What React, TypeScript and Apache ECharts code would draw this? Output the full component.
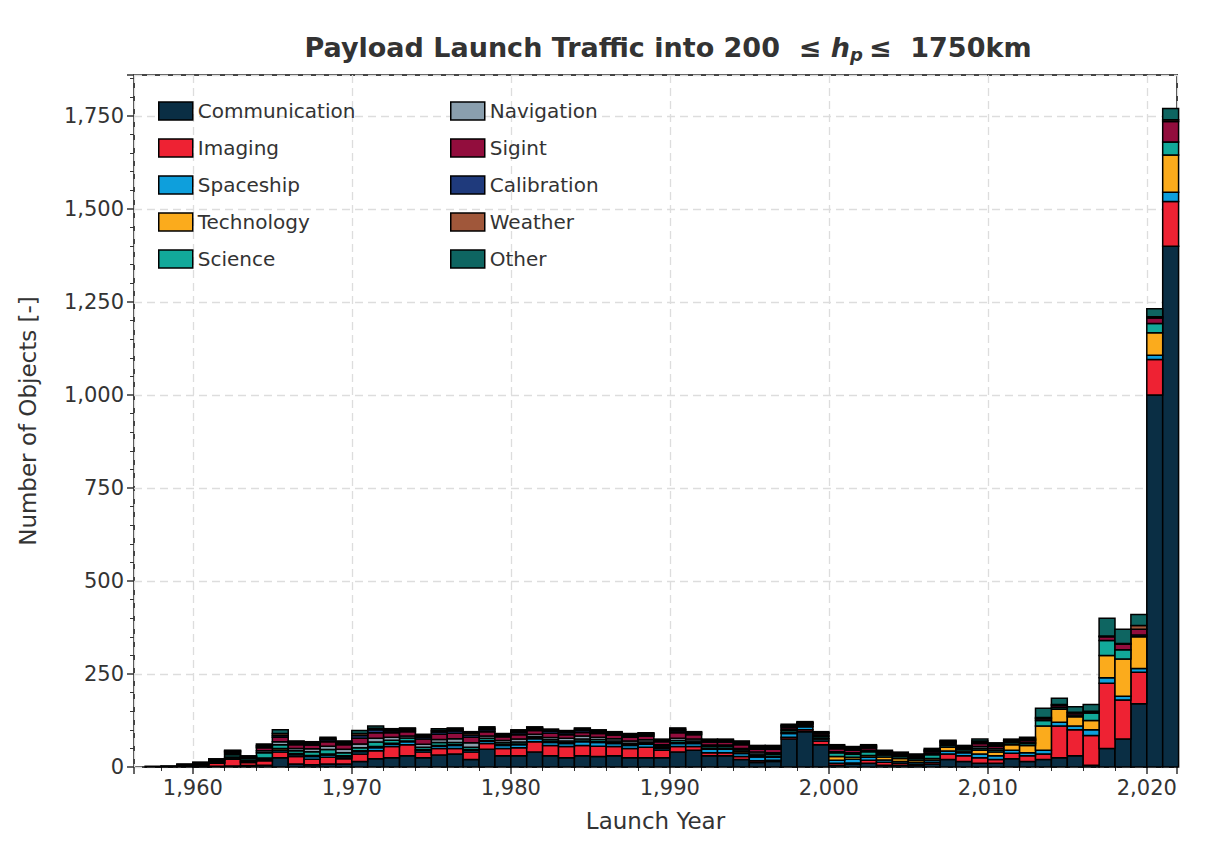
import React, { useEffect, useRef } from "react";
import * as echarts from "echarts";

// launch years, one bin per year (left edge = year)
const years = Array.from({ length: 65 }, (_, i) => 1957 + i);

const communication = [0,0,0,1,2,3,4,5,25,8, 6,8,8,15,22,25,30,25,32,35, 20,48,30,30,40,30,25,30,28,30, 25,25,25,40,45,30,30,20,12,15, 75,95,60,5,8,10,5,5,5,8, 20,15,10,10,22,15,20,25,30,5, 50,75,170,1000,1400];
const imaging = [0,0,2,4,8,18,8,12,15,20, 15,18,14,20,22,30,30,15,18,15, 20,15,20,22,28,28,30,28,28,25, 25,28,20,15,10,8,8,8,5,3, 5,5,10,5,3,8,8,5,3,5, 15,15,15,10,15,15,15,85,70,80, 175,105,85,95,120];
const spaceship = [0,0,0,0,1,3,2,3,5,5, 7,6,5,6,8,6,8,5,6,8, 5,6,8,8,8,8,8,10,10,8, 8,8,5,8,8,10,10,8,10,8, 10,8,5,8,10,8,6,5,5,5, 8,8,10,10,8,8,10,10,10,15, 15,10,10,12,25];
const technology = [0,1,1,2,2,3,3,4,5,3, 3,3,3,3,3,3,2,2,2,2, 2,2,2,2,2,2,2,2,2,2, 2,2,2,2,2,2,2,5,3,3, 3,2,2,10,5,5,8,8,5,5, 10,5,10,10,15,20,65,35,25,25, 60,100,85,60,100];
const science = [2,2,3,3,4,6,5,14,10,8, 10,12,8,8,12,8,8,6,8,6, 6,6,5,5,4,5,5,5,6,5, 4,4,4,6,5,5,5,5,5,5, 5,4,5,10,8,10,5,5,5,10, 5,5,5,5,5,5,15,5,5,20, 40,25,5,25,35];
const navigation = [0,0,0,1,2,4,3,6,8,6, 8,9,10,10,10,8,5,8,8,10, 12,6,6,8,6,6,7,8,6,6, 6,6,4,6,5,4,4,4,5,4, 4,2,2,3,4,4,3,3,3,3, 4,3,5,5,2,3,0,0,0,0, 0,0,0,0,0];
const sigint = [0,0,0,0,1,3,2,8,12,10, 10,12,12,15,15,12,12,14,14,15, 15,12,10,12,10,12,10,10,10,10, 10,10,8,15,12,8,8,10,8,10, 5,2,5,8,7,6,4,4,4,5, 4,3,8,6,3,5,5,5,5,3, 10,15,15,15,55];
const calibration = [0,0,0,0,0,2,1,3,5,4, 4,5,4,8,8,5,4,5,6,6, 6,5,4,5,4,5,5,5,4,4, 4,4,3,5,3,3,3,3,3,3, 3,1,2,3,3,3,2,2,2,3, 2,1,3,2,1,2,0,0,0,0, 0,0,0,0,0];
const weather = [0,0,1,1,1,2,1,3,5,3, 3,4,3,5,4,3,4,4,4,4, 5,4,3,4,3,3,3,4,3,3, 3,3,2,4,3,3,3,4,4,4, 2,1,2,4,3,3,2,1,1,2, 2,1,4,3,1,3,3,3,2,2, 2,2,10,3,5];
const other = [0,0,1,1,1,1,1,4,10,3, 2,3,3,8,6,3,2,4,5,4, 4,4,2,4,3,3,3,3,3,2, 3,2,2,4,2,2,2,3,3,3, 3,2,2,4,4,3,2,2,2,4, 2,2,5,4,3,4,25,17,15,18, 48,38,30,22,30];

const categories = [
  { name: "Communication", color: "#0a2e44", values: communication },
  { name: "Imaging", color: "#ee2233", values: imaging },
  { name: "Spaceship", color: "#0e9fdc", values: spaceship },
  { name: "Technology", color: "#fbab1c", values: technology },
  { name: "Science", color: "#12a99a", values: science },
  { name: "Navigation", color: "#8a9fae", values: navigation },
  { name: "Sigint", color: "#920d3d", values: sigint },
  { name: "Calibration", color: "#1f3a7c", values: calibration },
  { name: "Weather", color: "#a0573a", values: weather },
  { name: "Other", color: "#0e6561", values: other },
];

const App: React.FC = () => {
  const ref = useRef<HTMLDivElement>(null);

  useEffect(() => {
    if (!ref.current) return;
    const chart = echarts.init(ref.current, null, { renderer: "svg" });

    const base = years.map(() => 0);
    const series = categories.map((c) => {
      const data = years.map((y, i) => {
        const lo = base[i];
        base[i] += c.values[i];
        return [y, lo, base[i]];
      });
      return {
        name: c.name,
        type: "custom",
        itemStyle: { color: c.color },
        renderItem: (params: any, api: any) => {
          const y = api.value(0);
          const lo = api.value(1);
          const hi = api.value(2);
          if (hi - lo <= 0) return null;
          const p0 = api.coord([y, lo]);
          const p1 = api.coord([y + 1, hi]);
          return {
            type: "rect",
            shape: { x: p0[0], y: p1[1], width: p1[0] - p0[0], height: p0[1] - p1[1] },
            style: { fill: c.color, stroke: "#000", lineWidth: 1.5 },
          };
        },
        encode: { x: 0, y: [1, 2] },
        data,
      };
    });

    const legendItem = (c: any) => ({
      name: c.name,
      itemStyle: { color: c.color, borderColor: "#000", borderWidth: 1.5 },
    });
    const legendBase = {
      orient: "vertical",
      top: 88,
      icon: "rect",
      itemWidth: 34,
      itemHeight: 18,
      itemGap: 17,
      textStyle: { fontSize: 20, color: "#333", fontFamily: "DejaVu Sans" },
    };

    chart.setOption({
      animation: false,
      title: {
        text: "{a|Payload Launch Traffic into 200  ≤ }{i|h}{s|p}{a|≤  1750km}",
        left: 655,
        textAlign: "center",
        top: 18,
        textStyle: {
          rich: {
            a: { fontSize: 27, color: "#333", fontFamily: "DejaVu Sans" },
            i: { fontSize: 27, color: "#333", fontFamily: "DejaVu Sans", fontStyle: "italic" },
            s: { fontSize: 18, color: "#333", fontFamily: "DejaVu Sans", fontStyle: "italic", padding: [14, 6, 0, 0] },
          },
        },
      },
      legend: [
        { ...legendBase, left: 145, data: categories.slice(0, 5).map(legendItem) },
        { ...legendBase, left: 437, data: categories.slice(5).map(legendItem) },
      ],
      grid: { left: 125, right: 27, top: 67, bottom: 91, show: true, borderColor: "#444", borderWidth: 2, backgroundColor: "#fff" },
      xAxis: {
        type: "value",
        min: 1956.3,
        max: 2021.9,
        splitNumber: 6,
        name: "Launch Year",
        nameLocation: "middle",
        nameGap: 42,
        nameTextStyle: { fontSize: 23, color: "#333", fontFamily: "DejaVu Sans" },
        axisLine: { show: false },
        axisTick: { show: true, length: 7, lineStyle: { color: "#333", width: 1.5 } },
        minorTick: { show: true, splitNumber: 5, length: 4, lineStyle: { color: "#333" } },
        axisLabel: { fontSize: 21, color: "#333", fontFamily: "DejaVu Sans", showMinLabel: false, showMaxLabel: false, margin: 10 },
        splitLine: { show: true, lineStyle: { color: "#ddd", type: [8, 5], width: 1.3 } },
      },
      yAxis: {
        type: "value",
        min: 0,
        max: 1860,
        interval: 250,
        name: "Number of Objects [-]",
        nameLocation: "middle",
        nameGap: 95,
        nameTextStyle: { fontSize: 23, color: "#333", fontFamily: "DejaVu Sans" },
        axisLine: { show: false },
        axisTick: { show: true, length: 7, lineStyle: { color: "#333", width: 1.5 } },
        minorTick: { show: true, splitNumber: 5, length: 4, lineStyle: { color: "#333" } },
        axisLabel: { fontSize: 21, color: "#333", fontFamily: "DejaVu Sans", showMaxLabel: false, margin: 10 },
        splitLine: { show: true, lineStyle: { color: "#ddd", type: [8, 5], width: 1.3 } },
      },
      series,
    });

    return () => chart.dispose();
  }, []);

  return <div ref={ref} style={{ width: 1196, height: 850 }} />;
};

export default App;
